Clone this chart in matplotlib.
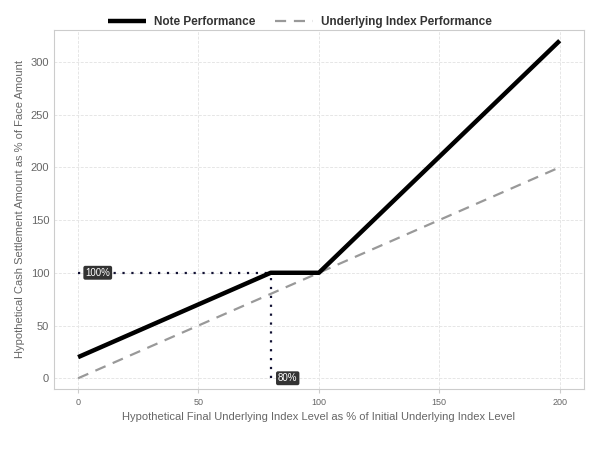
import numpy as np
import matplotlib
matplotlib.use("Agg")
import matplotlib.pyplot as plt

plt.rcParams['font.family'] = ['Liberation Sans', 'DejaVu Sans']

# payoff data (% of initial level -> % of face amount)
note_x = [0, 80, 100, 200]
note_y = [20, 100, 100, 320]
index_x = [0, 200]
index_y = [0, 200]
x_ticks = [0, 50, 100, 150, 200]
y_ticks = [0, 50, 100, 150, 200, 250, 300]

fig = plt.figure(figsize=(6, 4.5), dpi=100)
ax = fig.add_axes([0.09, 0.136, 0.883, 0.797])

ax.plot(index_x, index_y, color="#999999", lw=1.6, ls=(0, (5, 3.5)),
        label="Underlying Index Performance", zorder=3)
ax.plot(note_x, note_y, color="black", lw=3.2, solid_capstyle="butt",
        label="Note Performance", zorder=4)

# barrier guide lines
ax.plot([0, 80], [100, 100], color="#111133", lw=1.6, ls=(0, (1, 3)), zorder=2)
ax.plot([80, 80], [0, 100], color="#111133", lw=1.6, ls=(0, (1, 3)), zorder=2)

box = dict(boxstyle="round,pad=0.2,rounding_size=0.2", fc="#333333", ec="none")
ax.text(3, 100, "100%", color="white", fontsize=7, va="center", ha="left", bbox=box, zorder=5)
ax.text(83, 0, "80%", color="white", fontsize=7, va="center", ha="left", bbox=box, zorder=5)

ax.set_xlim(-10, 210)
ax.set_ylim(-10, 330)
ax.set_xticks(x_ticks)
ax.set_yticks(y_ticks)
ax.tick_params(axis="x", labelsize=6.5, colors="#666666", length=3, color="#cccccc")
ax.tick_params(axis="y", labelsize=8, colors="#666666", length=0)
ax.grid(True, color="#e6e6e6", lw=0.7, ls=(0, (3, 1.5)))
ax.set_axisbelow(True)
for s in ax.spines.values():
    s.set_color("#cccccc")
    s.set_linewidth(0.8)

ax.set_xlabel("Hypothetical Final Underlying Index Level as % of Initial Underlying Index Level",
              fontsize=8, color="#666666", labelpad=4)
ax.set_ylabel("Hypothetical Cash Settlement Amount as % of Face Amount",
              fontsize=8, color="#666666", labelpad=4)

handles, labels = ax.get_legend_handles_labels()
leg = fig.legend(handles[::-1], labels[::-1], loc="upper center", bbox_to_anchor=(0.5, 0.988),
                 ncol=2, frameon=False, handlelength=3.2, handletextpad=0.7, columnspacing=1.7,
                 prop={"family": "Liberation Sans", "weight": "bold", "size": 8.5})
for t in leg.get_texts():
    t.set_color("#333333")

fig.savefig("out.png", dpi=100)
